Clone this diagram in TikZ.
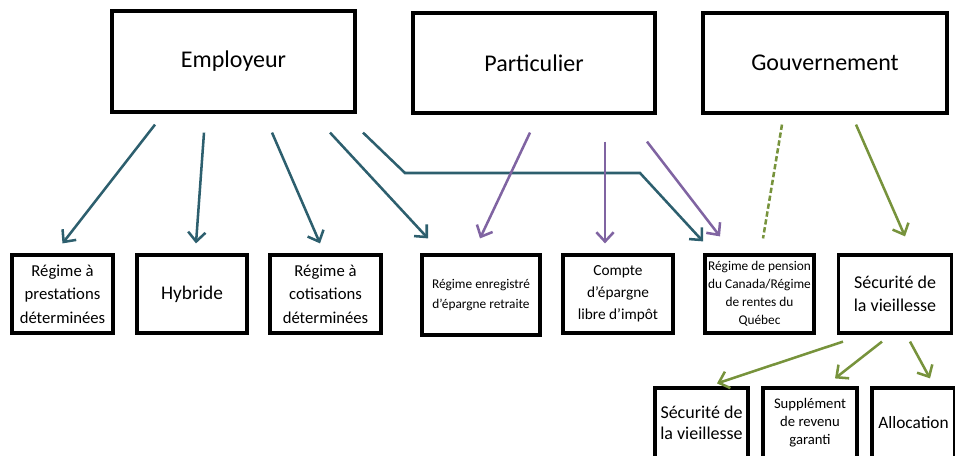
\documentclass[tikz,border=0pt]{standalone}
\usepackage{fontspec}
\setmainfont{Carlito}
\usetikzlibrary{arrows.meta,calc}
\definecolor{tealarr}{HTML}{2D5F6E}
\definecolor{purparr}{HTML}{8064A2}
\definecolor{grnarr}{HTML}{77933C}
\newcommand{\fs}[2]{\fontsize{#1}{#2}\selectfont}

\begin{document}
\begin{tikzpicture}[x=0.75pt,y=-0.75pt,
   box/.style 2 args={draw,line width=2.4pt,minimum width=#1*0.75pt,
     minimum height=#2*0.75pt,inner sep=0pt,align=center},
   arr/.style={line width=1.9pt,-{Straight Barb[length=7pt,width=13pt]}}]
   \useasboundingbox (0,0) rectangle (955,456);
   \clip (0,0) rectangle (955,456);
   \node[box={243}{101},font=\fs{18}{21}] (emp) at (233.5,61.5) {Employeur};
   \node[box={242}{100},font=\fs{18}{21}] (part) at (534,63) {Particulier};
   \node[box={244}{100},font=\fs{18}{21}] (gouv) at (825,63) {Gouvernement};
   \node[box={101}{78},font=\fs{12.5}{17.5}] (pd) at (62.5,294) {Régime à\\prestations\\déterminées};
   \node[box={110}{78},font=\fs{14.5}{17}] (hyb) at (192,294) {Hybride};
   \node[box={111}{78},font=\fs{12.5}{17.5}] (cd) at (325.5,294) {Régime à\\cotisations\\déterminées};
   \node[box={118}{80},font=\fs{10}{15}] (reer) at (481,295) {Régime enregistré\\d’épargne retraite};
   \node[box={110}{78},font=\fs{11.5}{16.5}] (celi) at (618,294) {Compte\\d’épargne\\libre d’impôt};
   \node[box={109}{78},font=\fs{10}{13.5}] (rpc) at (759.5,294) {Régime de pension\\du Canada/Régime\\de rentes du\\Québec};
   \node[box={113}{78},font=\fs{13.5}{17}] (sv) at (895,294) {Sécurité de\\la vieillesse};
   \node[box={93}{70},font=\fs{13.5}{16}] (sv2) at (701.5,423) {Sécurité de\\la vieillesse};
   \node[box={94}{70},font=\fs{11}{13.5}] (sup) at (810,423) {Supplément\\de revenu\\garanti};
   \node[box={83}{70},font=\fs{13}{16}] (all) at (913.5,423) {Allocation};
   \coordinate (k1) at (405,173);
   \coordinate (k2) at (640,173);
   \draw[arr,tealarr] ($(emp.south)+(-78.5,11)$) -- ($(pd.north)+(0,-10)$);
   \draw[arr,tealarr] ($(emp.south)+(-29.5,19)$) -- ($(hyb.north)+(4,-10)$);
   \draw[arr,tealarr] ($(emp.south)+(38.5,19)$) -- ($(cd.north)+(-5.5,-10)$);
   \draw[arr,tealarr] ($(emp.south)+(96.5,19)$) -- ($(reer.north)+(-53,-15)$);
   \draw[arr,tealarr] ($(emp.south)+(129.5,19)$) -- (k1) -- (k2) -- ($(rpc.north)+(-56.5,-12)$);
   \draw[arr,purparr] ($(part.south)+(-4,18)$) -- ($(reer.north)+(-1,-15)$);
   \draw[arr,purparr] ($(part.south)+(71,27)$) -- ($(celi.north)+(-13,-10)$);
   \draw[arr,purparr] ($(part.south)+(113,27)$) -- ($(rpc.north)+(-39.5,-17)$);
   \draw[grnarr,line width=1.9pt,dash pattern=on 4pt off 2pt] ($(gouv.south)+(-43,10)$) -- ($(rpc.north)+(3.5,-15)$);
   \draw[arr,grnarr] ($(gouv.south)+(31,10)$) -- ($(sv.north)+(10,-17)$);
   \draw[arr,grnarr] ($(sv.south)+(-52,7)$) -- ($(sv2.north)+(15.5,-3)$);
   \draw[arr,grnarr] ($(sv.south)+(-13,7)$) -- ($(sup.north)+(25,-8)$);
   \draw[arr,grnarr] ($(sv.south)+(15,7)$) -- ($(all.north)+(16.5,-8)$);
\end{tikzpicture}
\end{document}
